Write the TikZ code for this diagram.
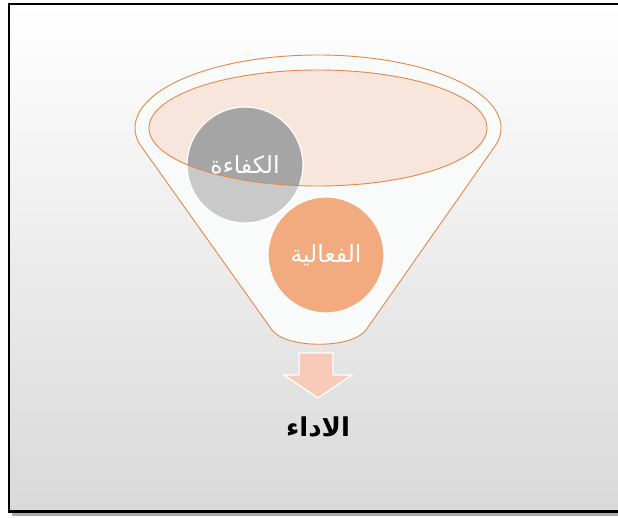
\documentclass[tikz,border=0pt]{standalone}
\usepackage{fontspec}
\usepackage{tikz}
\usetikzlibrary{positioning}
\newfontfamily\arabicfont[Script=Arabic]{DejaVu Sans}
\TeXXeTstate=1
\definecolor{FunLine}{HTML}{E3874A}
\definecolor{FunBody}{HTML}{F6F7F8}
\definecolor{TopFill}{HTML}{F8E6DC}
\definecolor{EffcGray}{HTML}{A5A5A5}
\definecolor{EffvOrange}{HTML}{E8742A}
\definecolor{ArrowFill}{HTML}{F7CBB8}
\definecolor{BgBottom}{HTML}{D9D9D9}
\newcommand{\FunnelPath}{(135,389) arc[start angle=180, end angle=-12, x radius=183, y radius=73]
  -- (366,187) .. controls (352,168) and (286,168) .. (272,187)
  -- (139,373.8) arc[start angle=192, end angle=180, x radius=183, y radius=73] -- cycle}

\begin{document}
\begin{tikzpicture}[x=1pt,y=1pt]
  \tikzstyle{circb}=[circle, minimum size=116pt, inner sep=0pt, draw=white, line width=1.2pt]
  \tikzstyle{circt}=[font=\arabicfont\fontsize{23.5}{24}\selectfont, text=white]
  \useasboundingbox (0,0) rectangle (618,517);
  % frame with shadow
  \fill[gray!65] (11.5,1) rectangle (635,510);
  \shade[top color=white, bottom color=BgBottom] (9,5.5) rectangle (632,513);
  \draw[line width=2.5pt] (9,5.5) rectangle (632,513);
  % funnel body and top
  \fill[FunBody] \FunnelPath;
  \fill[TopFill] (318,389) ellipse[x radius=169, y radius=58];
  % circles
  \node[circb, fill=EffcGray] (effc) at (245,352) {};
  \node[circb, fill=EffvOrange] (effv) at (326,262) {};
  % glass over the circles
  \fill[white, fill opacity=0.4, even odd rule] \FunnelPath (318,389) ellipse[x radius=169, y radius=58];
  \draw[FunLine, line width=0.9pt] \FunnelPath;
  \draw[FunLine, line width=0.9pt] (318,389) ellipse[x radius=169, y radius=58];
  \node[circt] (effctxt) at (effc.center) {\beginR الكفاءة\endR};
  \node[circt] (effvtxt) at (effv.center) {\beginR الفعالية\endR};
  % arrow to result
  \filldraw[fill=ArrowFill, draw=white, line width=1.2pt] (299,164) -- (333,164) -- (333,142) -- (352,142)
    -- (318,119) -- (284,142) -- (299,142) -- cycle;
  \node[font=\arabicfont\bfseries\fontsize{26}{26}\selectfont] (perf) at (318,90) {\beginR الاداء\endR};
\end{tikzpicture}
\end{document}
